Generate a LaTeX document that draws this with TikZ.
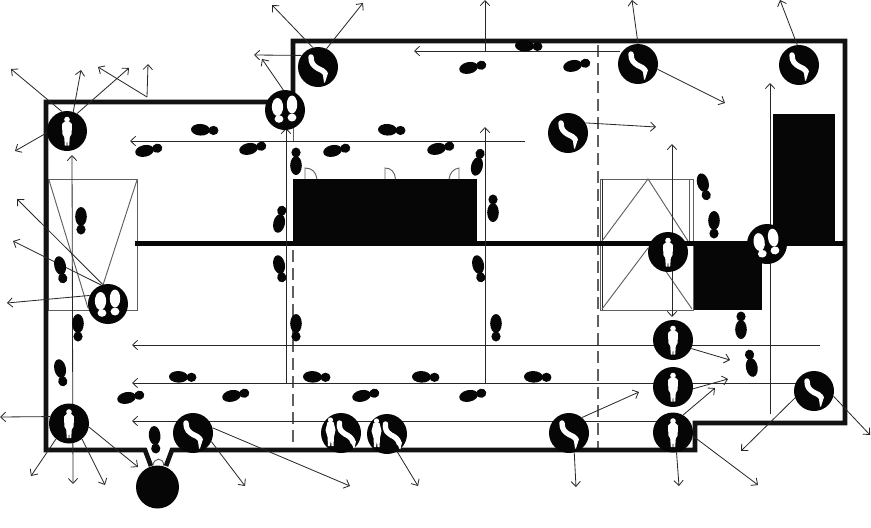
\documentclass[tikz,border=0pt]{standalone}
\usepackage{xcolor}
\definecolor{planblack}{RGB}{6,6,6}
\definecolor{plandark}{RGB}{40,40,40}
\definecolor{plangray}{RGB}{95,95,95}
\usetikzlibrary{arrows.meta}
\tikzset{
  wall/.style={draw=planblack!95, line width=1.4mm, line join=miter},
  innerwall/.style={draw=planblack, line width=1.6mm},
  thinline/.style={draw=plangray, line width=0.8pt},
  dashline/.style={draw=plangray, line width=0.9pt, dash pattern=on 3.6mm off 1.8mm},
  flow/.style={draw=plandark, line width=0.7pt, -{Straight Barb[length=1.5mm,width=2.8mm]}},
  flowboth/.style={draw=plandark, line width=0.7pt, {Straight Barb[length=1.5mm,width=2.8mm]}-{Straight Barb[length=1.5mm,width=2.8mm]}},
  marker/.style={circle, fill=planblack, minimum size=1.2cm, inner sep=0pt},
  shoeprint/.pic={
    \fill[planblack] (-4.5,0) ellipse [x radius=9.5, y radius=5.8];
    \fill[planblack] (8.5,0) ellipse [x radius=5, y radius=4.6];
  },
  standing/.pic={
    \fill[white] (0,-11.5) circle [radius=2.8];
    \fill[white] (-2.4,-9.5) -- (2.4,-9.5) -- (5,-7) -- (4.6,3) -- (2.8,6) -- (2.2,14.5) -- (0.5,14.5) -- (0,8)
      -- (-0.5,14.5) -- (-2.2,14.5) -- (-2.8,6) -- (-4.6,3) -- (-5,-7) -- cycle;
  },
  footpair/.pic={
    \fill[white] (-7.5,-3) ellipse [x radius=5.6, y radius=9];
    \fill[white] (-6,9) ellipse [x radius=4.4, y radius=3.8];
    \fill[white] (7,-5.5) ellipse [x radius=5.2, y radius=9];
    \fill[white] (7,7.5) ellipse [x radius=4.4, y radius=4];
  },
  seated/.pic={
    \draw[white, line width=4.6pt, line cap=round, line join=round] (-7,-10) .. controls (-7,-3) and (-4,-1) .. (0,1.5) .. controls (3,3) and (6,4) .. (7,6);
    \fill[white] (4.5,5) -- (10,6) -- (7,15.5) -- (6,15.5) -- cycle;
  },
  seatedpair/.pic={
    \fill[white] (-10.5,-13) circle [radius=2.6];
    \fill[white] (-13.5,-11) -- (-7.5,-11) -- (-5.5,-3) -- (-7,4) -- (-7.5,13) -- (-9.5,13) -- (-10,7) -- (-11,13) -- (-13,13) -- (-13.5,4) -- (-15.5,-3) -- cycle;
    \draw[white, line width=4.6pt, line cap=round, line join=round] (-1.5,-10) .. controls (-2,-3) and (0,-2) .. (4,1) .. controls (8,3) and (11,5) .. (12,9);
    \fill[white] (9.5,8) -- (15,8) -- (13.5,15) -- (12.5,15) -- cycle;
  }
}
\begin{document}
\begin{tikzpicture}[x=0.03cm,y=-0.03cm]
  \useasboundingbox (0,0) rectangle (871,527);

  % Stair wells
  \draw[thinline] (48,179) rectangle (137,310);
  \draw[thinline] (49,180) -- (88,308);
  \draw[thinline] (137,180) -- (103,285);
  \draw[thinline] (600,179) rectangle (693,310);
  \draw[thinline] (689,179) -- (689,243);
  \draw[draw=plandark] (602,179) -- (602,310);
  \draw[thinline] (602,241) -- (648,179) -- (688,241);
  \draw[thinline] (602,309) -- (648,248);
  \draw[thinline] (692,309) -- (665,270);

  % Dashed lines
  \draw[dashline] (293,250) -- (293,450);
  \draw[dashline] (598,45) -- (598,450);
  \draw[thinline] (293,128) -- (293,141);

  % Walls and solid blocks
  \draw[wall] (270,102) -- (46,102) -- (46,450) -- (145,450) -- (151,466);
  \draw[wall] (166,466) -- (172,450) -- (695,450) -- (695,423) -- (845,423) -- (845,41) -- (293,41) -- (293,100);
  \draw[innerwall] (135,243.5) -- (845,243.5);
  \fill[planblack] (293,179) rectangle (477,243);
  \fill[planblack] (773,114) rectangle (835,243);
  \fill[planblack] (694,242) rectangle (762,310);

  % Entrance
  \fill[planblack] (157.5,487) circle [radius=21.5];
  \draw[thinline] (153,465) .. controls (154,458) and (163,456) .. (164,466);

  % Doors
  \draw[thinline] (305,179) -- (305,168) .. controls (312,168) and (316,172) .. (317,179);
  \draw[thinline] (385,179) -- (385,168) .. controls (391,168) and (395,172) .. (395.5,179);
  \draw[thinline] (459,179) -- (459,168) .. controls (453,169) and (450,173) .. (449,179);

  % Ends of the long arrows
  \coordinate (topa) at (620,51); \coordinate (topatip) at (414,51);
  \coordinate (topbase) at (485,51); \coordinate (toptip) at (485,0);
  \coordinate (aislea) at (525,141); \coordinate (aisleatip) at (130,141);
  \coordinate (aisleb) at (820,345); \coordinate (aislebtip) at (132,345);
  \coordinate (aislec) at (680,421); \coordinate (aislectip) at (132,421);
  \coordinate (aisled) at (800,383); \coordinate (aisledtip) at (132,383);
  \coordinate (risea) at (286,383); \coordinate (riseatip) at (286,128);
  \coordinate (riseb) at (485,383); \coordinate (risebtip) at (485,127);
  \coordinate (risec) at (770,414); \coordinate (risectip) at (770,83);
  \coordinate (lefttop) at (72,155); \coordinate (leftbot) at (73,484);
  \coordinate (righttop) at (672,144); \coordinate (rightbot) at (672,317);

  % Long arrows
  \draw[flow] (topa) -- (topatip);
  \draw[flow] (topbase) -- (toptip);
  \draw[flow] (aislea) -- (aisleatip);
  \draw[flow] (aisleb) -- (aislebtip);
  \draw[flow] (aislec) -- (aislectip);
  \draw[flow] (aisled) -- (aisledtip);
  \draw[flow] (risea) -- (riseatip);
  \draw[flow] (riseb) -- (risebtip);
  \draw[flow] (risec) -- (risectip);
  \draw[flowboth] (lefttop) -- (leftbot);
  \draw[flowboth] (righttop) -- (rightbot);

  % Markers
  \node[marker] (standa) at (67,131) {};
  \node[marker] (standb) at (69,423.5) {};
  \node[marker] (standc) at (668,252) {};
  \node[marker] (standd) at (673,340) {};
  \node[marker] (stande) at (673,387) {};
  \node[marker] (standf) at (673,432.5) {};
  \node[marker] (feeta) at (285,110) {};
  \node[marker] (feetb) at (108,304) {};
  \node[marker] (feetc) at (767,244) {};
  \node[marker] (seata) at (318,67) {};
  \node[marker] (seatb) at (638,64) {};
  \node[marker] (seatc) at (799,65) {};
  \node[marker] (seatd) at (568,133) {};
  \node[marker] (seate) at (193,433) {};
  \node[marker] (seatf) at (569,433) {};
  \node[marker] (seatg) at (814,391) {};
  \node[marker] (paira) at (341,433) {};
  \node[marker] (pairb) at (387,434) {};

  \pic at (standa) {standing};
  \pic at (standb) {standing};
  \pic at (standc) {standing};
  \pic at (standd) {standing};
  \pic at (stande) {standing};
  \pic at (standf) {standing};
  \pic at (feeta) {footpair};
  \pic at (feetb) {footpair};
  \pic[rotate=8] at (feetc) {footpair};
  \pic at (seata) {seated};
  \pic at (seatb) {seated};
  \pic at (seatc) {seated};
  \pic at (seatd) {seated};
  \pic at (seate) {seated};
  \pic at (seatf) {seated};
  \pic at (seatg) {seated};
  \pic at (paira) {seatedpair};
  \pic at (pairb) {seatedpair};

  % Free ends of the short arrows
  \coordinate (standa1) at (11,69); \coordinate (standa2) at (81,70);
  \coordinate (standa3) at (129,68); \coordinate (standa4) at (15,151);
  \coordinate (rooftop) at (147,97); \coordinate (roofa) at (98,67); \coordinate (roofb) at (148,64);
  \coordinate (feetb1) at (17,199); \coordinate (feetb2) at (13,241); \coordinate (feetb3) at (7,303);
  \coordinate (standb1) at (0,417); \coordinate (standb2) at (31,476);
  \coordinate (standb3) at (105,485); \coordinate (standb4) at (138,467);
  \coordinate (seate1) at (245,486); \coordinate (seate2) at (350,486);
  \coordinate (seata1) at (272,5); \coordinate (seata2) at (363,3); \coordinate (seata3) at (254,55);
  \coordinate (feeta1) at (262,59);
  \coordinate (seatb1) at (632,0); \coordinate (seatb2) at (725,103);
  \coordinate (seatc1) at (780,0);
  \coordinate (seatd1) at (656,127);
  \coordinate (seatf1) at (639,392); \coordinate (seatf2) at (576,487);
  \coordinate (standd1) at (730,360); \coordinate (stande1) at (728,379);
  \coordinate (standf1) at (715,388); \coordinate (standf2) at (679,486); \coordinate (standf3) at (758,485);
  \coordinate (seatg1) at (741,451); \coordinate (seatg2) at (870,435);
  \coordinate (pairb1) at (418,486);

  % Short arrows
  \draw[flow] (standa.105) -- (standa1);
  \draw[flow] (standa.72) -- (standa2);
  \draw[flow] (standa.60) -- (standa3);
  \draw[flow] (standa.185) -- (standa4);
  \draw[flow] (rooftop) -- (roofa);
  \draw[flow] (rooftop) -- (roofb);
  \draw[flow] (feetb.105) -- (feetb1);
  \draw[flow] (feetb.110) -- (feetb2);
  \draw[flow] (feetb.155) -- (feetb3);
  \draw[flow] (standb.160) -- (standb1);
  \draw[flow] (standb.230) -- (standb2);
  \draw[flow] (standb.-50) -- (standb3);
  \draw[flow] (standb.-10) -- (standb4);
  \draw[flow] (seate.-25) -- (seate1);
  \draw[flow] (seate.15) -- (seate2);
  \draw[flow] (seata.105) -- (seata1);
  \draw[flow] (seata.65) -- (seata2);
  \draw[flow] (seata.145) -- (seata3);
  \draw[flow] (feeta.95) -- (feeta1);
  \draw[flow] (seatb.90) -- (seatb1);
  \draw[flow] (seatb.-15) -- (seatb2);
  \draw[flow] (seatc.95) -- (seatc1);
  \draw[flow] (seatd.30) -- (seatd1);
  \draw[flow] (seatf.50) -- (seatf1);
  \draw[flow] (seatf.-75) -- (seatf2);
  \draw[flow] (standd.-25) -- (standd1);
  \draw[flow] (stande.-5) -- (stande1);
  \draw[flow] (standf.60) -- (standf1);
  \draw[flow] (standf.-80) -- (standf2);
  \draw[flow] (standf.-10) -- (standf3);
  \draw[flow] (seatg.200) -- (seatg1);
  \draw[flow] (seatg.-15) -- (seatg2);
  \draw[flow] (pairb.-60) -- (pairb1);

  % Footprints, top rooms
  \pic[rotate=-3] at (529,46) {shoeprint};
  \pic[rotate=12] at (473,67) {shoeprint};
  \pic[rotate=12] at (577,65) {shoeprint};
  \pic[rotate=-3] at (205,130) {shoeprint};
  \pic[rotate=-3] at (392,130) {shoeprint};
  \pic[rotate=12] at (149,150) {shoeprint};
  \pic[rotate=12] at (253,148) {shoeprint};
  \pic[rotate=12] at (337,150) {shoeprint};
  \pic[rotate=12] at (441,148) {shoeprint};
  \pic[rotate=90] at (296,161) {shoeprint};
  \pic[rotate=76] at (478,162) {shoeprint};
  \pic[rotate=78] at (280,219) {shoeprint};
  \pic[rotate=90] at (493,208) {shoeprint};

  % Footprints, left side and lower rooms
  \pic[rotate=-90] at (81,221) {shoeprint};
  \pic[rotate=-78] at (61,270) {shoeprint};
  \pic[rotate=-90] at (78,328) {shoeprint};
  \pic[rotate=-78] at (61,373) {shoeprint};
  \pic[rotate=-78] at (280,269) {shoeprint};
  \pic[rotate=-78] at (479,269) {shoeprint};
  \pic[rotate=-90] at (296,328) {shoeprint};
  \pic[rotate=-90] at (496,328) {shoeprint};
  \pic[rotate=-85] at (155,440) {shoeprint};
  \pic[rotate=-2] at (183,377) {shoeprint};
  \pic[rotate=-2] at (317,377) {shoeprint};
  \pic[rotate=-2] at (426,377) {shoeprint};
  \pic[rotate=-2] at (538,377) {shoeprint};
  \pic[rotate=12] at (131,397) {shoeprint};
  \pic[rotate=12] at (236,395) {shoeprint};
  \pic[rotate=12] at (366,395) {shoeprint};
  \pic[rotate=12] at (473,395) {shoeprint};

  % Footprints, right side
  \pic[rotate=-75] at (704,187) {shoeprint};
  \pic[rotate=-90] at (714,225) {shoeprint};
  \pic[rotate=90] at (741,325) {shoeprint};
  \pic[rotate=100] at (751,363) {shoeprint};
\end{tikzpicture}
\end{document}
